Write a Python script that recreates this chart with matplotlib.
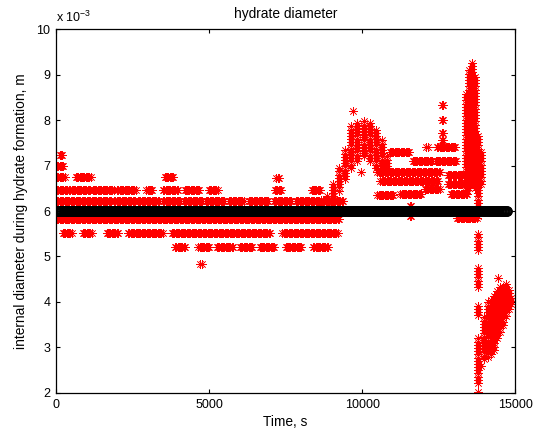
import numpy as np
import matplotlib
matplotlib.use('Agg')
import matplotlib.pyplot as plt

plt.rcParams['font.family'] = ['Liberation Sans', 'DejaVu Sans']
plt.rcParams['mathtext.default'] = 'regular'

# red clusters: start time, end time, diameter (x 1e-3 m)
seg_t0 = [0, 0, 1900, 2680, 3500, 4180, 4900, 5650, 6300, 7120, 7840, 8730,
          0, 430, 1200, 2000, 2950, 3500, 4200, 5000, 7150, 8350,
          0, 650, 3550, 7200, 0, 120,
          230, 880, 1660, 2360, 3790, 7400,
          3890, 4650, 5260, 6010, 6650, 7500, 8400, 4720,
          10900, 11650, 12400, 12450, 12100,
          10500, 10600, 12800, 12800,
          10500, 11250, 12050, 12900,
          11550, 11550, 13100,
          12620, 12620, 12620, 12620]
seg_t1 = [9250, 1800, 2600, 3370, 4080, 4800, 5500, 6150, 6960, 7680, 8600, 9380,
          380, 1140, 1900, 2600, 3150, 4000, 4700, 5300, 7350, 8650,
          300, 1150, 3850, 7300, 250, 220,
          520, 1170, 2030, 3500, 7000, 9200,
          4220, 5030, 5790, 6440, 7150, 8050, 8900, 4780,
          11570, 12300, 13100, 13050, 12150,
          12550, 12500, 13530, 13530,
          11050, 11950, 12550, 13450,
          11600, 11600, 13750,
          12680, 12680, 12680, 12680]
seg_d = [5.82, 6.22, 6.22, 6.22, 6.22, 6.22, 6.22, 6.22, 6.22, 6.22, 6.22, 6.22,
         6.47, 6.47, 6.47, 6.47, 6.47, 6.47, 6.47, 6.47, 6.47, 6.47,
         6.75, 6.75, 6.75, 6.72, 7.0, 7.23,
         5.52, 5.52, 5.52, 5.52, 5.52, 5.52,
         5.21, 5.21, 5.21, 5.21, 5.21, 5.21, 5.21, 4.83,
         7.3, 7.1, 7.1, 7.4, 7.4,
         6.85, 6.65, 6.8, 6.6,
         6.35, 6.37, 6.48, 6.37,
         6.1, 5.9, 5.85,
         8.33, 8.0, 7.71, 7.55]

# red clouds: time, lowest and highest diameter (x 1e-3 m)
cloud_t = [8650, 8850, 9050, 9250, 9450, 9650, 9850, 10050, 10250, 10450, 10650, 10800,
           13400, 13500, 13600, 13700, 13800, 13900,
           13780, 13780, 13780, 13780, 13780,
           14000, 14100, 14200, 14300, 14400, 14500, 14600, 14700, 14800, 14880]
cloud_lo = [6.1, 6.2, 6.25, 6.45, 6.7, 6.95, 7.1, 7.2, 7.1, 6.95, 6.85, 6.85,
            6.4, 6.5, 6.6, 6.5, 5.9, 6.6,
            5.14, 4.33, 3.71, 2.22, 2.02,
            2.75, 2.8, 2.85, 2.95, 3.2, 3.35, 3.5, 3.7, 3.85, 3.95]
cloud_hi = [6.25, 6.4, 6.6, 6.95, 7.35, 7.9, 7.95, 8.0, 7.95, 7.8, 7.55, 7.25,
            8.6, 9.1, 9.3, 9.0, 7.7, 7.3,
            5.54, 4.75, 3.93, 3.23, 2.02,
            3.7, 4.05, 4.1, 4.2, 4.3, 4.35, 4.35, 4.4, 4.3, 4.1]

# single points
pt_t = [9720, 9950, 14450, 13900]
pt_d = [8.2, 6.86, 4.53, 2.6]

# reference diameter
d_ref = 6.0
t_end = 14750

t_red = []
d_red = []
for a, b, d in zip(seg_t0, seg_t1, seg_d):
    tt = np.arange(a, b + 1, 40)
    t_red.extend(tt)
    d_red.extend([d] * len(tt))
for t, lo, hi in zip(cloud_t, cloud_lo, cloud_hi):
    dd = np.arange(lo, hi + 0.001, 0.07)
    if len(dd) == 0:
        dd = [lo]
    t_red.extend([t] * len(dd))
    d_red.extend(dd)
t_red.extend(pt_t)
d_red.extend(pt_d)

t_red = np.array(t_red)
d_red = np.array(d_red) * 1e-3

t_blk = np.arange(0, t_end + 1, 25)
d_blk = np.full(len(t_blk), d_ref * 1e-3)

fig = plt.figure(figsize=(5.36, 4.33), dpi=100)
ax = fig.add_axes([0.1045, 0.0924, 0.8565, 0.8406])

ax.plot(t_red, d_red, linestyle='none', marker=(8, 2, 0), color='red',
        markersize=6.2, markeredgewidth=0.45)
ax.plot(t_blk, d_blk, linestyle='none', marker='o', color='black',
        markerfacecolor='none', markersize=6.5, markeredgewidth=1.0)

ax.set_xlim(0, 15000)
ax.set_ylim(2e-3, 10e-3)
ax.set_xticks([0, 5000, 10000, 15000])
ax.set_yticks(np.arange(2, 11) * 1e-3)
ax.set_yticklabels([str(v) for v in range(2, 11)])
ax.tick_params(direction='in', top=True, right=True, length=3, width=0.8,
               labelsize=9, pad=4)
for s in ax.spines.values():
    s.set_linewidth(0.9)

ax.text(0, 1.012, r'x 10$^{-3}$', transform=ax.transAxes, ha='left', va='bottom',
        fontsize=9)
ax.set_title('hydrate diameter', fontsize=9.9, pad=8)
ax.set_xlabel('Time, s', fontsize=9.9, labelpad=3)
ax.set_ylabel('internal diameter during hydrate formation, m', fontsize=9.9,
              labelpad=6)

fig.savefig('out.png', dpi=100)
